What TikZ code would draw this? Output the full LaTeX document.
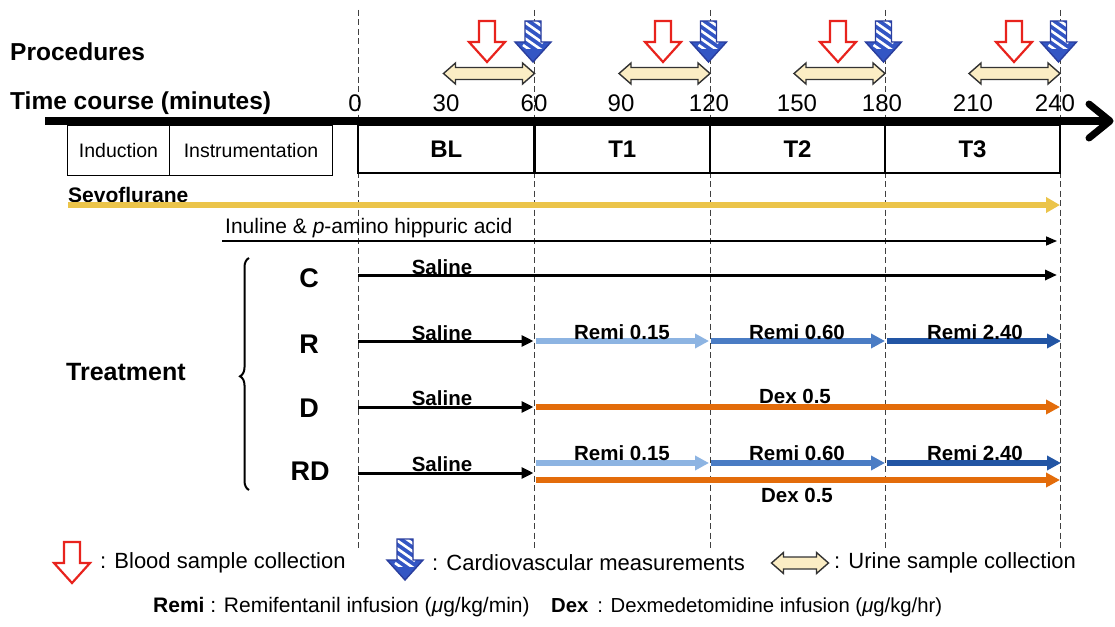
\documentclass[tikz,border=0pt]{standalone}
\usepackage{fontspec}
\setmainfont{Liberation Sans}
\usetikzlibrary{arrows.meta,decorations.pathreplacing,calc}
\definecolor{bloodred}{HTML}{E8231D}
\definecolor{cvblue}{HTML}{3356C4}
\definecolor{cvdark}{HTML}{2A3E9E}
\definecolor{urinefill}{HTML}{FBEDC4}
\definecolor{sevo}{HTML}{EBC44A}
\definecolor{remiA}{HTML}{8DB4E2}
\definecolor{remiB}{HTML}{4A7CC4}
\definecolor{remiC}{HTML}{2255A4}
\definecolor{dexor}{HTML}{E36C0A}
\newcommand{\fs}[1]{\fontsize{#1}{#1}\selectfont}
\tikzset{
  bloodarrow/.pic={
    \draw[bloodred, line width=2.2pt, fill=white, line join=miter]
      (-8,0) -- (8,0) -- (8,21) -- (18,21) -- (0,41) -- (-18,21) -- (-8,21) -- cycle;
  },
  cvarrow/.pic={
    \fill[cvblue] (-8,0) -- (8,0) -- (8,21) -- (18,21) -- (0,41) -- (-18,21) -- (-8,21) -- cycle;
    \begin{scope}
      \clip (-8,0) -- (8,0) -- (8,21) -- (18,21) -- (0,41) -- (-18,21) -- (-8,21) -- cycle;
      \foreach \k in {-3,...,3} {
        \draw[white, line width=2.6pt] (-10,{\k*8}) -- (10,{\k*8+14});
      }
      \fill[cvblue] (-18,28) rectangle (18,42);
    \end{scope}
    \draw[cvdark, line width=1.4pt, line join=miter]
      (-8,0) -- (8,0) -- (8,21) -- (18,21) -- (0,41) -- (-18,21) -- (-8,21) -- cycle;
  },
  urine/.pic={
    \draw[black!80, line width=1.4pt, fill=urinefill, line join=miter]
      (-#1,0) -- ({-#1+12},-10.5) -- ({-#1+12},-6) -- ({#1-12},-6) -- ({#1-12},-10.5)
      -- (#1,0) -- ({#1-12},10.5) -- ({#1-12},6) -- ({-#1+12},6) -- ({-#1+12},10.5) -- cycle;
  },
  vline/.style={black!75, line width=0.9pt, dash pattern=on 6pt off 3.5pt},
  hdr/.style={font=\fs{24.5}\bfseries, inner sep=0pt},
  tick/.style={font=\fs{24}, inner sep=0pt},
  period/.style={draw, line width=2.8pt, font=\fs{24}\bfseries, inner sep=0pt},
  prebox/.style={draw, line width=0.9pt, font=\fs{19.5}, inner sep=0pt},
  grp/.style={font=\fs{27}\bfseries, inner sep=0pt},
  drug/.style={font=\fs{20.5}\bfseries, inner sep=0pt},
  legend/.style={font=\fs{22}, inner sep=0pt, anchor=west},
  salinearrow/.style={black, line width=3pt, -{Triangle[length=12pt,width=11pt]}},
  colarrow/.style={line width=6pt, -{Triangle[length=14pt,width=14pt]}},
}
\begin{document}
\begin{tikzpicture}[x=1pt,y=-1pt]
\useasboundingbox (0,0) rectangle (1115,626);
\fill[white] (0,0) rectangle (1115,626);

% time reference coordinates
\coordinate (t0) at (358,0);
\coordinate (t1) at (534.5,0);
\coordinate (t2) at (710,0);
\coordinate (t3) at (885,0);
\coordinate (t4) at (1060,0);
\coordinate (ytop) at (0,10);
\coordinate (ybot) at (0,548);

% dashed time lines
\foreach \t in {t0,t1,t2,t3,t4} {
  \draw[vline] (\t |- ytop) -- (\t |- ybot);
}

% headers
\node[hdr, anchor=west] (proc) at (10,52) {Procedures};
\node[hdr, anchor=west] (tc) at (10,103) {Time course (minutes)};

% tick labels
\node[tick] (l0) at (355,103) {0};
\node[tick] (l30) at (446,103) {30};
\node[tick] (l60) at (534,103) {60};
\node[tick] (l90) at (621,103) {90};
\node[tick] (l120) at (709,103) {120};
\node[tick] (l150) at (797,103) {150};
\node[tick] (l180) at (882,103) {180};
\node[tick] (l210) at (973,103) {210};
\node[tick] (l240) at (1055,103) {240};

% procedure arrows
\foreach \t/\r in {t1/487, t2/663, t3/838, t4/1014} {
  \path (\r,21) pic {bloodarrow};
  \path ($(\t |- ytop)+(-1.5,11)$) pic {cvarrow};
  \path ($(\t |- ytop)+(-45.5,63.5)$) pic {urine=45.5};
}

% time axis
\coordinate (axL) at (45,121);
\coordinate (axR) at (1108,121);
\draw[line width=8pt] (axL) -- (axR);
\draw[line width=7pt, line cap=round, line join=round] ($(axR)+(-19,-17)$) -- ($(axR)+(2,0)$) -- ($(axR)+(-19,17)$);

% pre-period boxes
\node[prebox, minimum width=102pt, minimum height=50pt] (ind) at (118.5,150.5) {Induction};
\node[prebox, minimum width=163pt, minimum height=50pt] (instr) at (251,150.5) {Instrumentation};

% period boxes
\node[period, minimum width=176.5pt, minimum height=48pt] (BL) at (446.25,149) {BL};
\node[period, minimum width=175.5pt, minimum height=48pt] (T1) at (622.25,149) {T1};
\node[period, minimum width=175pt, minimum height=48pt] (T2) at (797.5,149) {T2};
\node[period, minimum width=175pt, minimum height=48pt] (T3) at (972.5,149) {T3};

% sevoflurane
\node[font=\fs{21}\bfseries, inner sep=0pt, anchor=west] (sevo) at (68,195) {Sevoflurane};
\coordinate (sevoS) at (68,205);
\draw[sevo, line width=6pt, -{Triangle[length=14pt,width=15pt]}] (sevoS) -- (t4 |- sevoS);

% inuline
\node[font=\fs{21}, inner sep=0pt, anchor=west] (inu) at (225,228) {Inuline \& \textit{p}-amino hippuric acid};
\coordinate (inuS) at (222,241);
\draw[black, line width=1.6pt, -{Triangle[length=11pt,width=9pt]}] (inuS) -- ($(t4 |- inuS)+(-3,0)$);

% treatment
\node[font=\fs{25}\bfseries, inner sep=0pt, anchor=west] (treat) at (66,372) {Treatment};
\draw[line width=2pt, decorate, decoration={brace, amplitude=9pt, aspect=0.49}] (249,490) -- (249,258);

% group labels
\node[grp] (gC) at (309,278) {C};
\node[grp] (gR) at (309,344) {R};
\node[grp] (gD) at (309,408) {D};
\node[grp] (gRD) at (310,471) {RD};

% row coordinates
\coordinate (rC) at (0,275);
\coordinate (rR) at (0,341);
\coordinate (rD) at (0,407);
\coordinate (rRD) at (0,473);
\coordinate (rRDb) at (0,463);
\coordinate (rRDo) at (0,480);

% C row
\draw[black, line width=3pt, -{Triangle[length=12pt,width=10pt]}] (t0 |- rC) -- ($(t4 |- rC)+(-3,0)$);
\node[drug] (sC) at (442,267) {Saline};

% R row
\draw[salinearrow] (t0 |- rR) -- ($(t1 |- rR)+(-1,0)$);
\node[drug] (sR) at (442,333) {Saline};
\draw[colarrow, remiA] ($(t1 |- rR)+(1,0)$) -- ($(t2 |- rR)+(-1,0)$);
\draw[colarrow, remiB] ($(t2 |- rR)+(1,0)$) -- (t3 |- rR);
\draw[colarrow, remiC] ($(t3 |- rR)+(2,0)$) -- ($(t4 |- rR)+(1,0)$);
\node[drug] (rA1) at (622,332) {Remi 0.15};
\node[drug] (rB1) at (797,332) {Remi 0.60};
\node[drug] (rC1) at (975,332) {Remi 2.40};

% D row
\draw[salinearrow] (t0 |- rD) -- ($(t1 |- rD)+(-1,0)$);
\node[drug] (sD) at (442,398) {Saline};
\draw[colarrow, dexor] ($(t1 |- rD)+(1,0)$) -- (t4 |- rD);
\node[drug] (dD) at (795,396) {Dex 0.5};

% RD row
\draw[salinearrow] (t0 |- rRD) -- ($(t1 |- rRD)+(-1,0)$);
\node[drug] (sRD) at (442,464) {Saline};
\draw[colarrow, remiA] ($(t1 |- rRDb)+(1,0)$) -- ($(t2 |- rRDb)+(-1,0)$);
\draw[colarrow, remiB] ($(t2 |- rRDb)+(1,0)$) -- (t3 |- rRDb);
\draw[colarrow, remiC] ($(t3 |- rRDb)+(2,0)$) -- ($(t4 |- rRDb)+(1,0)$);
\draw[colarrow, dexor] ($(t1 |- rRDo)+(1,0)$) -- (t4 |- rRDo);
\node[drug] (rA2) at (622,453) {Remi 0.15};
\node[drug] (rB2) at (797,453) {Remi 0.60};
\node[drug] (rC2) at (975,453) {Remi 2.40};
\node[drug] (dRD) at (797,495) {Dex 0.5};

% legend
\path (72,542) pic {bloodarrow};
\node[legend] (legB) at (100,563) {: Blood sample collection};
\path (405,539) pic {cvarrow};
\node[legend] (legC) at (432,563) {: Cardiovascular measurements};
\path (800,563) pic {urine=28.5};
\node[legend] (legU) at (834,563) {: Urine sample collection};

\node[font=\fs{21}, inner sep=0pt, anchor=west] (remiLeg) at (153,607) {\textbf{Remi} : Remifentanil infusion (\textit{μ}g/kg/min)};
\node[font=\fs{20.3}, inner sep=0pt, anchor=west] (dexLeg) at (551,607) {\textbf{Dex}\, : Dexmedetomidine infusion (\textit{μ}g/kg/hr)};
\end{tikzpicture}
\end{document}
